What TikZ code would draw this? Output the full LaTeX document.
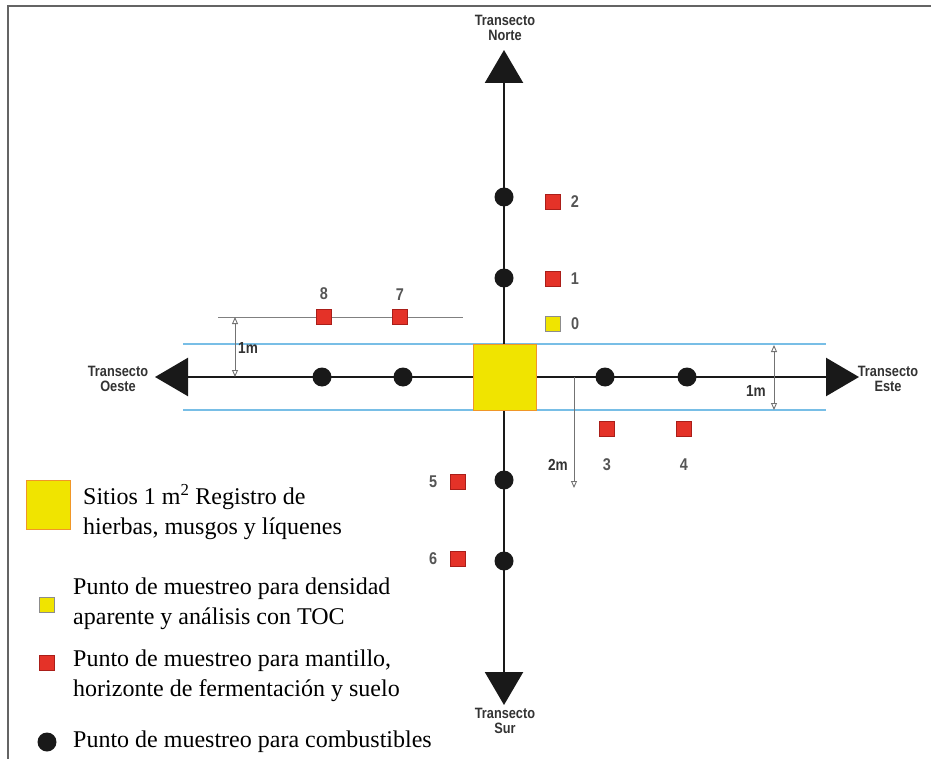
\documentclass[tikz,border=0pt]{standalone}
\usepackage{fontspec}
\setmainfont{Liberation Serif}
\newfontfamily\labelfont{Liberation Sans Bold}[FakeStretch=0.85]
\usetikzlibrary{arrows.meta,positioning}

\definecolor{band}{RGB}{120,190,230}
\definecolor{site}{RGB}{240,228,0}
\definecolor{siteedge}{RGB}{240,150,40}
\definecolor{mulch}{RGB}{228,50,40}
\definecolor{mulchedge}{RGB}{170,30,25}
\definecolor{frame}{RGB}{100,100,100}
\definecolor{numgray}{RGB}{85,85,85}

\begin{document}
\begin{tikzpicture}[x=1pt,y=-1pt,
    frame/.style={draw=frame,line width=2pt},
    axis/.style={line width=2.4pt,draw=black!90,
      {Triangle[length=33pt,width=38pt]}-{Triangle[length=33pt,width=38pt]}},
    band/.style={draw=band,line width=1.6pt},
    guide/.style={draw=black!50,line width=1pt},
    dim/.style={draw=black!55,line width=0.9pt,
      {Triangle[open,length=7pt,width=6pt]}-{Triangle[open,length=7pt,width=6pt]}},
    dot/.style={circle,fill=black!90,inner sep=0pt,minimum size=19pt},
    mulchbox/.style={rectangle,fill=mulch,draw=mulchedge,line width=0.4pt,
      inner sep=0pt,minimum size=15pt},
    tocbox/.style={rectangle,fill=site,draw=black!45,line width=0.6pt,
      inner sep=0pt,minimum size=15pt},
    sitebox/.style={rectangle,fill=site,draw=siteedge,line width=0.6pt,inner sep=0pt},
    numlab/.style={font=\labelfont\fontsize{17}{17}\selectfont,
      text=numgray,inner sep=0pt},
    dimlab/.style={font=\labelfont\fontsize{16}{16}\selectfont,
      text=black!80,inner sep=0pt},
    translab/.style={font=\labelfont\fontsize{15}{15}\selectfont,
      text=black!80,align=center,inner sep=0pt},
    legend/.style={font=\fontsize{24}{30}\selectfont,align=left,anchor=west,inner sep=0pt}
  ]
  \useasboundingbox (0,0) rectangle (931,759);

  % frame on top and left side
  \draw[frame] (8,759) -- (8,6) -- (931,6);

  % ends of the two transects
  \coordinate (north) at (504,50);
  \coordinate (south) at (504,705);
  \coordinate (west) at (155,377);
  \coordinate (east) at (859,377);

  % 1 m band on either side of the east-west transect
  \draw[band] (183,344) -- (826,344);
  \draw[band] (183,410) -- (826,410);
  % line through points 8 and 7
  \draw[guide] (218,317) -- (463,317);

  \draw[axis] (south) -- (north);
  \draw[axis] (west) -- (east);

  \node[translab] (tn) at (505,28) {Transecto\\Norte};
  \node[translab] (ts) at (505,721) {Transecto\\Sur};
  \node[translab] (to) at (118,379) {Transecto\\Oeste};
  \node[translab] (te) at (888,379) {Transecto\\Este};

  % central 1 m2 site
  \node[sitebox,minimum width=63pt,minimum height=66pt] (s0) at (504.5,377) {};

  % fuel sampling points
  \node[dot] (n1) at (504,278) {};
  \node[dot] (n2) at (504,197) {};
  \node[dot] (s1) at (504,480) {};
  \node[dot] (s2) at (504,561) {};
  \node[dot] (w1) at (403,377) {};
  \node[dot] (w2) at (322,377) {};
  \node[dot] (e1) at (605,377) {};
  \node[dot] (e2) at (687,377) {};

  % litter and soil sampling points
  \node[tocbox,label={[numlab,label distance=10pt]right:0}] (p0) at (553,324) {};
  \node[mulchbox,label={[numlab,label distance=10pt]right:1}] (p1) at (553,279) {};
  \node[mulchbox,label={[numlab,label distance=10pt]right:2}] (p2) at (553,202) {};
  \node[mulchbox,label={[numlab,label distance=22pt]below:3}] (p3) at (607,429) {};
  \node[mulchbox,label={[numlab,label distance=22pt]below:4}] (p4) at (684,429) {};
  \node[mulchbox,label={[numlab,label distance=13pt]left:5}] (p5) at (458,482) {};
  \node[mulchbox,label={[numlab,label distance=13pt]left:6}] (p6) at (458,559) {};
  \node[mulchbox,label={[numlab,label distance=9pt]above:7}] (p7) at (400,317) {};
  \node[mulchbox,label={[numlab,label distance=9pt]above:8}] (p8) at (324,317) {};

  % distances
  \coordinate (da) at (235,317);
  \coordinate (db) at (235,377);
  \draw[dim] (da) -- (db);
  \node[dimlab,anchor=west] (dal) at (238,348) {1m};

  \coordinate (dc) at (774,345);
  \coordinate (dd) at (774,410);
  \draw[dim] (dc) -- (dd);
  \node[dimlab,anchor=east] (dcl) at (766,391) {1m};

  \coordinate (de) at (574,377);
  \coordinate (df) at (574,488);
  \draw[dim,-{Triangle[open,length=7pt,width=6pt]}] (de) -- (df);
  \node[dimlab,anchor=east] (del) at (568,465) {2m};

  % legend
  \node[sitebox,minimum width=44pt,minimum height=49pt] (k1) at (48,505) {};
  \node[legend] (t1) at (83,512) {Sitios 1 m\textsuperscript{2} Registro de\\hierbas, musgos y líquenes};
  \node[tocbox] (k2) at (47,605) {};
  \node[legend] (t2) at (73,604) {Punto de muestreo para densidad\\aparente y análisis con TOC};
  \node[mulchbox] (k3) at (47,663) {};
  \node[legend] (t3) at (73,676) {Punto de muestreo para mantillo,\\horizonte de fermentación y suelo};
  \node[dot] (k4) at (47,742) {};
  \node[legend] (t4) at (73,742) {Punto de muestreo para combustibles};
\end{tikzpicture}
\end{document}
